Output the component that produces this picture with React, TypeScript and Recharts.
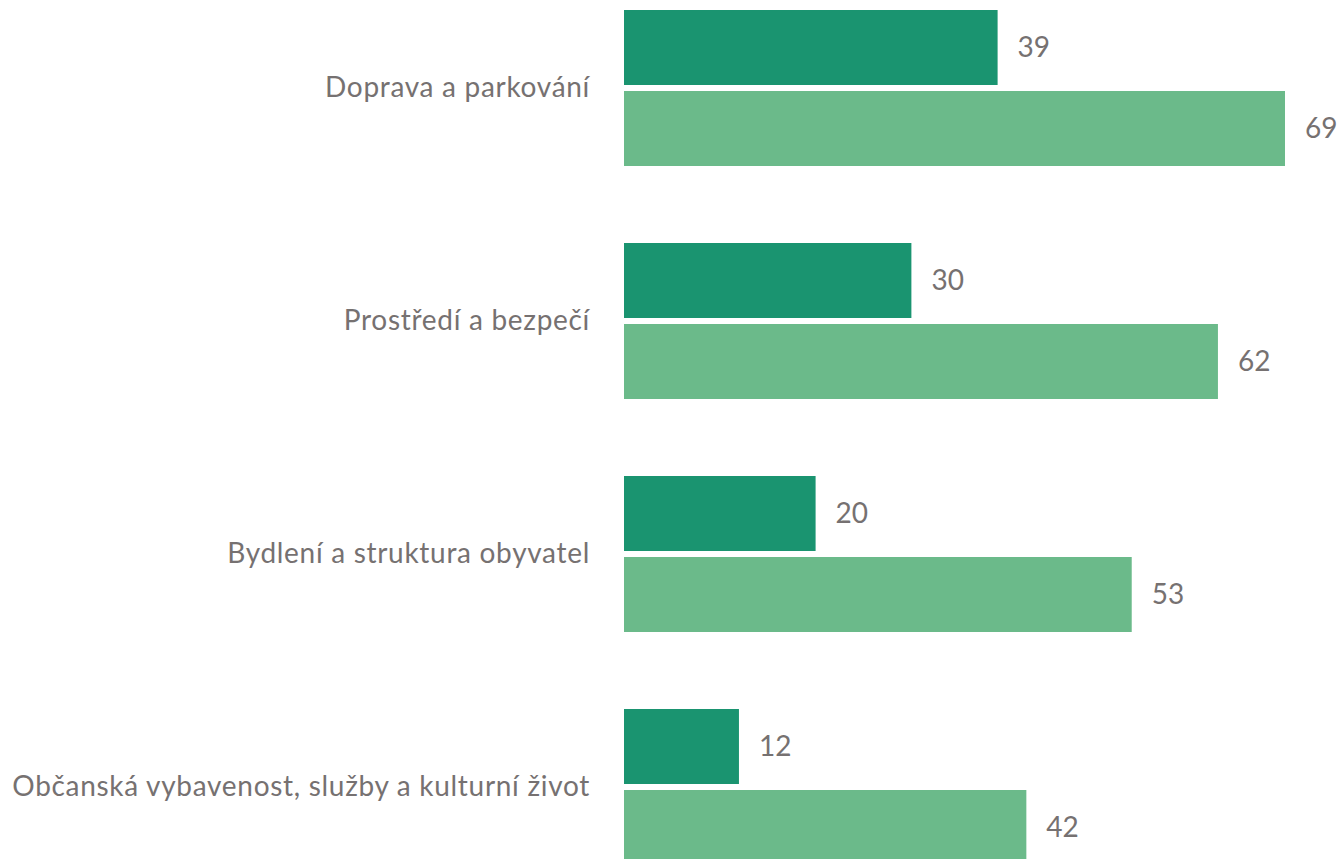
import { Bar, BarChart, LabelList, XAxis, YAxis } from "recharts";

const categories = [
  "Doprava a parkování",
  "Prostředí a bezpečí",
  "Bydlení a struktura obyvatel",
  "Občanská vybavenost, služby a kulturní život",
];
const seriesA = [39, 30, 20, 12];
const seriesB = [69, 62, 53, 42];

const data = categories.map((name, i) => ({ name, a: seriesA[i], b: seriesB[i] }));

const textColor = "#767171";
const fontFamily = "Lato, 'Open Sans', sans-serif";

export default function App() {
  return (
    <div style={{ position: "absolute", left: 0, top: -29.5, width: 1340, height: 932 }}>
      <BarChart
        width={1340}
        height={932}
        data={data}
        layout="vertical"
        margin={{ top: 0, right: 55, left: 0, bottom: 0 }}
        barGap={6}
        barSize={75}
      >
        <XAxis type="number" hide domain={[0, 69]} />
        <YAxis
          dataKey="name"
          type="category"
          width={624}
          axisLine={false}
          tickLine={false}
          tickSize={0}
          tickMargin={34}
          tick={{ fill: textColor, fontSize: 28, fontFamily, letterSpacing: 0.7 }}
        />
        <Bar dataKey="a" fill="#1a9470" isAnimationActive={false}>
          <LabelList dataKey="a" position="right" offset={20} fill={textColor} fontSize={28} fontFamily={fontFamily} />
        </Bar>
        <Bar dataKey="b" fill="#6bba8a" isAnimationActive={false}>
          <LabelList dataKey="b" position="right" offset={20} fill={textColor} fontSize={28} fontFamily={fontFamily} />
        </Bar>
      </BarChart>
    </div>
  );
}
